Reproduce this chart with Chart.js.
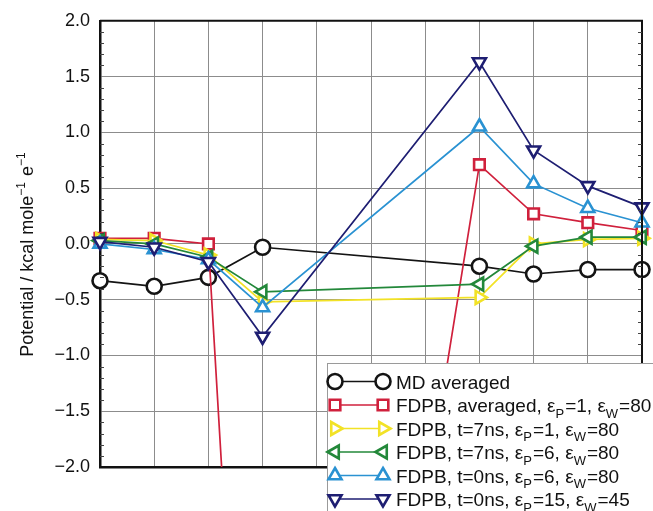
<!DOCTYPE html>
<html>
<head>
<meta charset="utf-8">
<script src="https://cdn.jsdelivr.net/npm/chart.js@4.4.0/dist/chart.umd.min.js"></script>
<style>
    html, body { margin: 0; padding: 0; background: #fff; }
</style>
</head>
<body>
<canvas id="potChart" width="653" height="511"></canvas>
<script>
// x 位置 (11 條格線, 中間 4~6 沒有資料)
const xLabels = ['1', '2', '3', '4', '5', '6', '7', '8', '9', '10', '11'];
const yTicks = [-2.0, -1.5, -1.0, -0.5, 0.0, 0.5, 1.0, 1.5, 2.0];

// 各條線的數值 (從圖上讀的)
const mdAveraged   = [-0.33, -0.38, -0.30, -0.03, null, null, null, -0.20, -0.27, -0.23, -0.23];
const fdpbAveraged = [ 0.05,  0.05,  0.00, -8.2,  null, null, -2.3,  0.71,  0.27,  0.19,  0.12];
const fdpbT7Ep1    = [ 0.04,  0.03, -0.10, -0.52, null, null, null, -0.48,  0.00,  0.04,  0.05];
const fdpbT7Ep6    = [ 0.03,  0.00, -0.12, -0.43, null, null, null, -0.36, -0.02,  0.06,  0.06];
const fdpbT0Ep6    = [ 0.00, -0.05, -0.14, -0.57, null, null, null,  1.05,  0.54,  0.32,  0.19];
const fdpbT0Ep15   = [ 0.02, -0.03, -0.16, -0.83, null, null, null,  1.63,  0.84,  0.52,  0.33];

// 圖例文字, "_X" = 下標
const seriesNames = [
    'MD averaged',
    'FDPB, averaged, ε_P=1, ε_W=80',
    'FDPB, t=7ns, ε_P=1, ε_W=80',
    'FDPB, t=7ns, ε_P=6, ε_W=80',
    'FDPB, t=0ns, ε_P=6, ε_W=80',
    'FDPB, t=0ns, ε_P=15, ε_W=45'
];
const yTitle = 'Potential / kcal mole^−1 e^−1';

const seriesData = [mdAveraged, fdpbAveraged, fdpbT7Ep1, fdpbT7Ep6, fdpbT0Ep6, fdpbT0Ep15];
const seriesColors = ['#141414', '#d0203c', '#f2e226', '#23883a', '#2a92d2', '#1e1e72'];
const seriesShapes = ['circle', 'rect', 'triangle', 'triangle', 'triangle', 'triangle'];
const seriesRotation = [0, 0, 90, 270, 0, 180];

const FONT = '"Liberation Sans", Arial, Helvetica, sans-serif';

// 畫有上下標的文字
function drawRichText(ctx, text, x, y, size, mark){
    let parts = text.split(mark);
    let cx = x;
    parts.forEach(function(p, idx){
        let normal = p;
        if(idx > 0){
            let sub = (mark === '_') ? p.match(/^\d+|^[A-Z]/)[0] : p.match(/^−?\d+/)[0];
            normal = p.slice(sub.length);
            ctx.font = Math.round(size * 0.66) + 'px ' + FONT;
            let dy = (mark === '_') ? size * 0.3 : -size * 0.45;
            ctx.fillText(sub, cx, y + dy);
            cx += ctx.measureText(sub).width + 1;
        }
        ctx.font = size + 'px ' + FONT;
        ctx.fillText(normal, cx, y);
        cx += ctx.measureText(normal).width;
    });
    return cx - x;
}

function measureRich(ctx, text, size, mark){
    ctx.save();
    ctx.globalAlpha = 0;
    let w = drawRichText(ctx, text, -9999, -9999, size, mark);
    ctx.restore();
    return w;
}

// 外框, 小刻度, 圖例, y 軸標題
const extrasPlugin = {
    id: 'extras',
    afterDraw(chart){
        const ctx = chart.ctx;
        const a = chart.chartArea;
        const ys = chart.scales.y;

        ctx.save();
        ctx.strokeStyle = '#111';
        ctx.lineWidth = 2;
        ctx.beginPath();
        ctx.moveTo(a.left, a.top);
        ctx.lineTo(a.right, a.top);
        ctx.lineTo(a.right, a.bottom);
        ctx.stroke();

        // minor ticks 0.1
        ctx.lineWidth = 1;
        ctx.strokeStyle = '#444';
        for(let v = -20; v <= 20; v++){
            if(v % 5 === 0) continue;
            let py = Math.round(ys.getPixelForValue(v / 10)) + 0.5;
            ctx.beginPath();
            ctx.moveTo(a.left, py); ctx.lineTo(a.left + 4, py);
            ctx.moveTo(a.right, py); ctx.lineTo(a.right - 4, py);
            ctx.stroke();
        }

        // legend box
        const bx = 327.5, by = 363.5;
        ctx.fillStyle = '#fff';
        ctx.strokeStyle = '#9a9a9a';
        ctx.lineWidth = 1;
        ctx.fillRect(bx, by, 400, 200);
        ctx.strokeRect(bx, by, 400, 200);

        chart.data.datasets.forEach(function(ds, i){
            let ry = 381.5 + i * 23.5;
            ctx.strokeStyle = ds.borderColor;
            ctx.lineWidth = 1.6;
            ctx.beginPath();
            ctx.moveTo(335, ry); ctx.lineTo(383, ry);
            ctx.stroke();
            [335, 383].forEach(function(px){
                ctx.fillStyle = '#fff';
                ctx.strokeStyle = ds.borderColor;
                ctx.lineWidth = 2.6;
                Chart.helpers.drawPoint(ctx, {
                    pointStyle: ds.pointStyle,
                    rotation: ds.pointRotation,
                    radius: 7.5,
                    borderWidth: 2.6
                }, px, ry);
            });
            ctx.fillStyle = '#111';
            ctx.textBaseline = 'alphabetic';
            ctx.textAlign = 'left';
            drawRichText(ctx, seriesNames[i], 396, ry + 7, 19, '_');
        });

        // y title
        ctx.fillStyle = '#111';
        ctx.textAlign = 'left';
        ctx.textBaseline = 'alphabetic';
        let tw = measureRich(ctx, yTitle, 18, '^');
        ctx.translate(33, 254);
        ctx.rotate(-Math.PI / 2);
        drawRichText(ctx, yTitle, -tw / 2, 0, 18, '^');
        ctx.restore();
    }
};

addEventListener('load', function(){
    const datasets = seriesData.map(function(d, i){
        return {
            label: seriesNames[i],
            data: d,
            borderColor: seriesColors[i],
            borderWidth: 1.7,
            pointStyle: seriesShapes[i],
            pointRotation: seriesRotation[i],
            pointRadius: 7.5,
            pointBorderWidth: 2.6,
            pointBackgroundColor: '#fff',
            pointBorderColor: seriesColors[i],
            spanGaps: true,
            tension: 0,
            order: seriesData.length - i
        };
    });

    const ctx = document.getElementById('potChart').getContext('2d');
    const potChart = new Chart(ctx, {
        type: 'line',
        data: {
            labels: xLabels,
            datasets: datasets
        },
        options: {
            responsive: false,
            animation: false,
            layout: {
                padding: { top: 18, right: 11, left: 0, bottom: 0 }
            },
            plugins: {
                legend: { display: false },
                tooltip: { enabled: false }
            },
            scales: {
                x: {
                    offset: false,
                    ticks: { display: false },
                    grid: { color: '#8c8c8c', lineWidth: 1, drawTicks: false },
                    border: { display: true, color: '#111', width: 2.5 },
                    afterFit: function(s){ s.height = 44; }
                },
                y: {
                    min: -2,
                    max: 2,
                    afterBuildTicks: function(s){
                        s.ticks = yTicks.map(v => ({ value: v }));
                    },
                    ticks: {
                        padding: 10,
                        color: '#111',
                        font: { size: 18, family: FONT },
                        callback: function(v){
                            return v.toFixed(1).replace('-', '−');
                        }
                    },
                    grid: { color: '#8c8c8c', lineWidth: 1, drawTicks: false },
                    border: { display: true, color: '#111', width: 2.5 },
                    afterFit: function(s){ s.width = 100; }
                }
            }
        },
        plugins: [extrasPlugin]
    });
});
</script>
</body>
</html>
